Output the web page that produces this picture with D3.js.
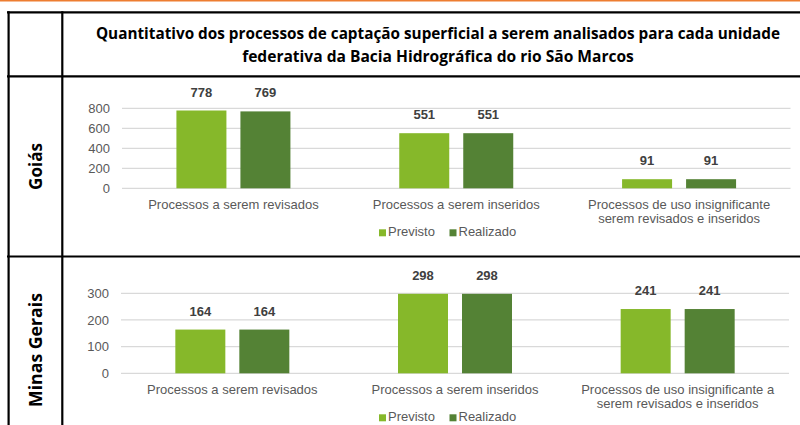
<!DOCTYPE html>
<meta charset="utf-8">
<style>
body { margin: 0; background: #fff; }
svg { display: block; }
.tick-label, .cat-label, .legend-label { font-family: "Liberation Sans", Arial, sans-serif; font-size: 13px; fill: #595959; }
.value-label { font-family: "Liberation Sans", Arial, sans-serif; font-size: 13px; font-weight: bold; fill: #404040; }
.heading { font-family: "Open Sans", sans-serif; font-weight: bold; fill: #000; }
</style>
<body>
<script src="https://d3js.org/d3.v7.min.js"></script>
<script>

const width = 800,
    height = 425

// data
var series = ['Previsto', 'Realizado']
var colors = ['#86B82A', '#548235']

var goiasCategories = [
    ['Processos a serem revisados'],
    ['Processos a serem inseridos'],
    ['Processos de uso insignificante', 'serem revisados e inseridos']
]
var goiasPrevisto = [778, 551, 91]
var goiasRealizado = [769, 551, 91]
var goiasTicks = [0, 200, 400, 600, 800]

var minasCategories = [
    ['Processos a serem revisados'],
    ['Processos a serem inseridos'],
    ['Processos de uso insignificante a', 'serem revisados e inseridos']
]
var minasPrevisto = [164, 298, 241]
var minasRealizado = [164, 298, 241]
var minasTicks = [0, 100, 200, 300]

var titleLines = [
    'Quantitativo dos processos de captação superficial a serem analisados para cada unidade',
    'federativa da Bacia Hidrográfica do rio São Marcos'
]

var svg = d3.select('body')
    .append('svg')
    .attr('width', width)
    .attr('height', height)

// orange rule on top
svg.append('rect')
    .attr('x', 0).attr('y', 0)
    .attr('width', width).attr('height', 1.5)
    .attr('fill', '#ED7D31')

// fit a bold heading text to a target length
function fitText(sel, target) {
    var len = sel.node().getComputedTextLength()
    var fs = parseFloat(sel.style('font-size'))
    sel.style('font-size', (fs * target / len) + 'px')
}

// title
var title = svg.append('g')
titleLines.forEach(function (t, i) {
    var tx = title.append('text')
        .attr('class', 'heading')
        .attr('x', 438)
        .attr('y', 39 + i * 22.5)
        .attr('text-anchor', 'middle')
        .style('font-size', '15px')
        .text(t)
    fitText(tx, i === 0 ? 685 : 392)
})

function drawPanel(opts) {
    var g = svg.append('g')

    var x = d3.scaleBand()
        .domain(d3.range(opts.categories.length))
        .range([opts.x0, opts.x1])

    var inner = 50 + 14
    var po = (x.bandwidth() / inner - 2 + 14 / inner) / 2
    var x1 = d3.scaleBand()
        .domain(series)
        .range([0, x.bandwidth()])
        .paddingInner(14 / inner)
        .paddingOuter(po)

    var y = d3.scaleLinear()
        .domain([0, d3.max(opts.ticks)])
        .range([opts.y0, opts.y0 - 80])

    // gridlines
    g.selectAll('.grid')
        .data(opts.ticks)
        .enter().append('line')
        .attr('x1', opts.x0).attr('x2', opts.x1)
        .attr('y1', function (d) { return y(d) })
        .attr('y2', function (d) { return y(d) })
        .attr('stroke', '#D9D9D9')
        .attr('stroke-width', 1.3)

    g.selectAll('.tick-label')
        .data(opts.ticks)
        .enter().append('text')
        .attr('class', 'tick-label')
        .attr('x', opts.x0 - 12)
        .attr('y', function (d) { return y(d) })
        .attr('dy', '0.35em')
        .attr('text-anchor', 'end')
        .text(function (d) { return d })

    var rows = opts.categories.map(function (c, i) {
        return series.map(function (s, j) {
            return { cat: i, key: s, color: colors[j], value: opts.values[j][i] }
        })
    })

    var groups = g.selectAll('.group')
        .data(rows)
        .enter().append('g')
        .attr('transform', function (d, i) { return 'translate(' + x(i) + ',0)' })

    groups.selectAll('rect')
        .data(function (d) { return d })
        .enter().append('rect')
        .attr('x', function (d) { return x1(d.key) })
        .attr('width', x1.bandwidth())
        .attr('y', function (d) { return y(d.value) })
        .attr('height', function (d) { return y(0) - y(d.value) })
        .attr('fill', function (d) { return d.color })

    groups.selectAll('.value-label')
        .data(function (d) { return d })
        .enter().append('text')
        .attr('class', 'value-label')
        .attr('x', function (d) { return x1(d.key) + x1.bandwidth() / 2 })
        .attr('y', function (d) { return y(d.value) - 14 })
        .attr('text-anchor', 'middle')
        .text(function (d) { return d.value })

    // category labels
    var cats = g.selectAll('.cat-label')
        .data(opts.categories)
        .enter().append('text')
        .attr('class', 'cat-label')
        .attr('text-anchor', 'middle')
        .attr('x', function (d, i) { return x(i) + x.bandwidth() / 2 })
        .attr('y', opts.y0 + 20.5)

    cats.selectAll('tspan')
        .data(function (d) { return d })
        .enter().append('tspan')
        .attr('x', function () { return d3.select(this.parentNode).attr('x') })
        .attr('dy', function (d, i) { return i === 0 ? 0 : 14.5 })
        .text(function (d) { return d })

    // legend
    var legend = g.append('g')
        .attr('transform', 'translate(379,' + (opts.y0 + 48) + ')')
    var item = legend.selectAll('g')
        .data(series)
        .enter().append('g')
        .attr('transform', function (d, i) { return 'translate(' + (i * 70.5) + ',0)' })
    item.append('rect')
        .attr('x', 0).attr('y', -7)
        .attr('width', 7).attr('height', 7)
        .attr('fill', function (d, i) { return colors[i] })
    item.append('text')
        .attr('class', 'legend-label')
        .attr('x', 9)
        .attr('y', 0)
        .text(function (d) { return d })

    // row label
    var rl = svg.append('text')
        .attr('class', 'heading')
        .attr('transform', 'translate(' + 42 + ',' + opts.labelY + ') rotate(-90)')
        .attr('text-anchor', 'middle')
        .style('font-size', '17px')
        .text(opts.name)
    fitText(rl, opts.labelLen)
}

drawPanel({
    name: 'Goiás', labelY: 166.5, labelLen: 47,
    categories: goiasCategories,
    values: [goiasPrevisto, goiasRealizado],
    ticks: goiasTicks,
    x0: 122, x1: 790.5, y0: 188.3
})

drawPanel({
    name: 'Minas Gerais', labelY: 350, labelLen: 114,
    categories: minasCategories,
    values: [minasPrevisto, minasRealizado],
    ticks: minasTicks,
    x0: 121, x1: 789, y0: 373.3
})

// table borders
var border = svg.append('g')
    .attr('stroke', '#000')
    .attr('stroke-width', 2.2)
border.append('line').attr('x1', 7).attr('x2', width).attr('y1', 12.3).attr('y2', 12.3)
border.append('line').attr('x1', 7).attr('x2', width).attr('y1', 76.3).attr('y2', 76.3)
border.append('line').attr('x1', 7).attr('x2', width).attr('y1', 256.5).attr('y2', 256.5)
border.append('line').attr('x1', 8.6).attr('x2', 8.6).attr('y1', 11.2).attr('y2', height)
border.append('line').attr('x1', 62.3).attr('x2', 62.3).attr('y1', 11.2).attr('y2', height)

</script>
</body>
